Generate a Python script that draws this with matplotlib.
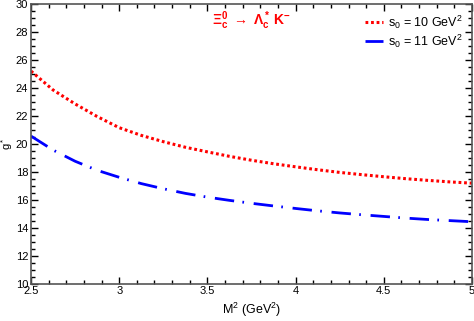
import matplotlib
matplotlib.use('Agg')
import matplotlib.pyplot as plt
from matplotlib.ticker import MultipleLocator

plt.rcParams['font.family'] = ['Liberation Sans', 'DejaVu Sans']
plt.rcParams['mathtext.fontset'] = 'custom'
plt.rcParams['mathtext.rm'] = 'Liberation Sans'
plt.rcParams['mathtext.it'] = 'Liberation Sans'
plt.rcParams['mathtext.bf'] = 'Liberation Sans:bold'
plt.rcParams['lines.scale_dashes'] = False

# data
m2 = [2.5, 2.625, 2.75, 2.875, 3.0, 3.125, 3.25, 3.375, 3.5, 3.625, 3.75,
      3.875, 4.0, 4.125, 4.25, 4.375, 4.5, 4.625, 4.75, 4.875, 5.0]
g_s10 = [25.2, 23.85, 22.85, 21.95, 21.15, 20.6, 20.15, 19.75, 19.42, 19.1, 18.82,
         18.57, 18.35, 18.14, 17.95, 17.79, 17.64, 17.5, 17.38, 17.27, 17.18]
g_s11 = [20.55, 19.55, 18.75, 18.1, 17.6, 17.15, 16.78, 16.45, 16.18, 15.95, 15.74,
         15.55, 15.37, 15.2, 15.05, 14.92, 14.8, 14.68, 14.58, 14.5, 14.42]
labels = [r'$\mathregular{s_0}$ = 10 GeV$\mathregular{^2}$',
          r'$\mathregular{s_0}$ = 11 GeV$\mathregular{^2}$']

fig = plt.figure(figsize=(4.74, 3.21), dpi=100)
ax = fig.add_axes([0.0654, 0.1168, 0.9304, 0.8707])

ax.plot(m2, g_s10, color='#ff0000', lw=2.2, linestyle=(0, (2.0, 2.0)),
        dash_capstyle='butt', label=labels[0])
ax.plot(m2, g_s11, color='#0000ff', lw=2.0, linestyle=(0, (14, 6, 1.2, 7)),
        dash_capstyle='butt', label=labels[1])

ax.set_xlim(2.5, 5)
ax.set_ylim(10, 30)
ax.xaxis.set_minor_locator(MultipleLocator(0.1))
ax.yaxis.set_major_locator(MultipleLocator(2))
ax.yaxis.set_minor_locator(MultipleLocator(0.5))
ax.set_xticks([2.5, 3, 3.5, 4, 4.5, 5])
ax.set_xticklabels(['2.5', '3', '3.5', '4', '4.5', '5'])
ax.tick_params(which='both', direction='in', top=True, right=True,
               labelsize=8, pad=2, color='black')
ax.tick_params(which='major', length=5, width=1)
ax.tick_params(which='minor', length=3, width=1)
for s in ax.spines.values():
    s.set_color('#555555')
    s.set_linewidth(1.2)

ax.set_xlabel(r'M$\mathregular{^2}$ (GeV$\mathregular{^2}$)', fontsize=9, labelpad=3)
ax.set_ylabel(r'g$\mathregular{^*}$', fontsize=8, va='center')
ax.yaxis.set_label_coords(-0.054, 0.5)

ax.text(0.50, 0.94, r'$\mathbf{\Xi_c^0}\ \rightarrow\ \mathbf{\Lambda_c^*\ K^{-}}$',
        color='#ff0000', fontsize=10, transform=ax.transAxes, ha='center', va='center')

leg = ax.legend(loc='upper right', frameon=False, fontsize=9, handlelength=1.45,
                handletextpad=0.4, labelspacing=0.15, borderaxespad=0.35)

fig.savefig('out.png', dpi=100)
